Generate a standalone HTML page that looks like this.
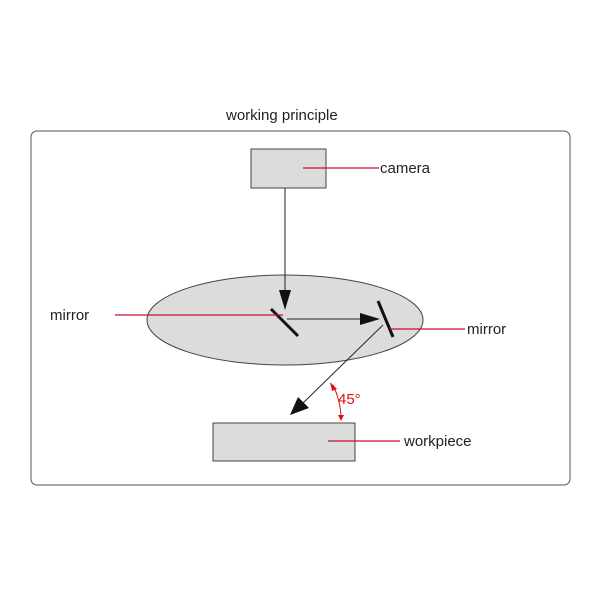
<!DOCTYPE html>
<html><head><style>body{margin:0;background:#fff}svg{display:block}</style></head><body>
<svg width="600" height="600" viewBox="0 0 600 600" xmlns="http://www.w3.org/2000/svg" font-family="Liberation Sans, sans-serif">
<rect x="31" y="131" width="539" height="354" rx="6" fill="none" stroke="#555" stroke-width="1"/>
<text x="226" y="120" font-size="15" fill="#222">working principle</text>
<ellipse cx="285" cy="320" rx="138" ry="45" fill="#dcdcdc" stroke="#444" stroke-width="1"/>
<rect x="251" y="149" width="75" height="39" fill="#dcdcdc" stroke="#444" stroke-width="1"/>
<rect x="213" y="423" width="142" height="38" fill="#dcdcdc" stroke="#444" stroke-width="1"/>
<line x1="285" y1="188" x2="285" y2="292" stroke="#222" stroke-width="1"/>
<polygon points="279,290 291,290 285,310" fill="#111"/>
<line x1="287" y1="319" x2="362" y2="319" stroke="#222" stroke-width="1"/>
<polygon points="360,313 360,325 380,319" fill="#111"/>
<line x1="383" y1="325" x2="302" y2="404" stroke="#222" stroke-width="1"/>
<polygon points="298,397 309,408 290,415" fill="#111"/>
<line x1="271" y1="309" x2="298" y2="336" stroke="#111" stroke-width="3"/>
<line x1="378" y1="301" x2="393" y2="337" stroke="#111" stroke-width="3"/>
<path d="M333,385 Q341,402 341,419" fill="none" stroke="#d11" stroke-width="1"/>
<polygon points="330,382 337,389 332,391" fill="#d11"/>
<polygon points="338,415 344,415 341,421" fill="#d11"/>
<text x="338" y="404" font-size="15" fill="#d11">45°</text>
<line x1="303" y1="168" x2="379" y2="168" stroke="#c8102e" stroke-width="1.2"/>
<line x1="115" y1="315" x2="283" y2="315" stroke="#c8102e" stroke-width="1.2"/>
<line x1="390" y1="329" x2="465" y2="329" stroke="#c8102e" stroke-width="1.2"/>
<line x1="328" y1="441" x2="400" y2="441" stroke="#c8102e" stroke-width="1.2"/>
<text x="380" y="173" font-size="15" fill="#222">camera</text>
<text x="50" y="320" font-size="15" fill="#222">mirror</text>
<text x="467" y="334" font-size="15" fill="#222">mirror</text>
<text x="404" y="446" font-size="15" fill="#222">workpiece</text>
</svg>
</body></html>
